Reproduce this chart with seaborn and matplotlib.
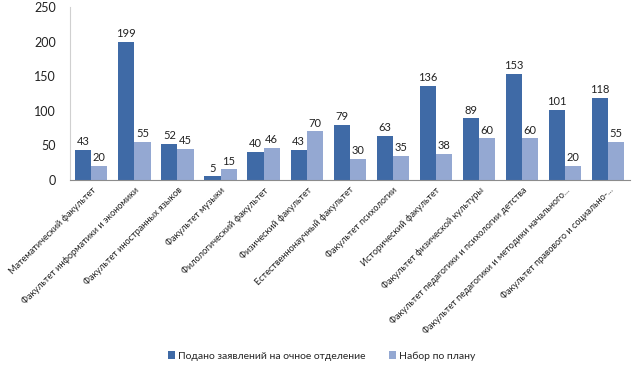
import pandas as pd
import matplotlib
matplotlib.use("Agg")
import matplotlib.pyplot as plt
import seaborn as sns

# Data
faculties = [
    "Математический факультет",
    "Факультет информатики и экономики",
    "Факультет иностранных языков",
    "Факультет музыки",
    "Филологический факультет",
    "Физический факультет",
    "Естественнонаучный факультет",
    "Факультет психологии",
    "Исторический факультет",
    "Факультет физической культуры",
    "Факультет педагогики и психологии детства",
    "Факультет педагогики и методики начального...",
    "Факультет правового и социально-...",
]
applications = [43, 199, 52, 5, 40, 43, 79, 63, 136, 89, 153, 101, 118]
plan = [20, 55, 45, 15, 46, 70, 30, 35, 38, 60, 60, 20, 55]
series_names = ["Подано заявлений на очное отделение", "Набор по плану"]
colors = ["#3F6AA6", "#94A8D2"]

df = pd.DataFrame({
    "faculty": faculties * 2,
    "value": applications + plan,
    "series": [series_names[0]] * len(faculties) + [series_names[1]] * len(faculties),
})

sns.set_style("white")
plt.rcParams["font.family"] = ["Lato", "DejaVu Sans"]

fig = plt.figure(figsize=(6.4, 3.67), dpi=100)
ax = fig.add_axes([0.109, 0.51, 0.875, 0.471])

sns.barplot(data=df, x="faculty", y="value", hue="series", palette=colors,
            width=0.75, saturation=1, ax=ax, edgecolor="none")

for cont in ax.containers:
    ax.bar_label(cont, fontsize=8, padding=2, color="#222222")

ax.set_ylim(0, 250)
ax.set_yticks(range(0, 251, 50))
ax.set_xlim(-0.5, len(faculties) - 0.5)
ax.set_xlabel("")
ax.set_ylabel("")
ax.tick_params(axis="y", labelsize=9, length=0, pad=10, colors="#222222")
ax.set_xticks(range(len(faculties)))
ax.set_xticklabels(faculties, rotation=45, ha="right", rotation_mode="anchor",
                   fontsize=6.6, color="#222222")
ax.tick_params(axis="x", length=0, pad=4)

for s in ["top", "right"]:
    ax.spines[s].set_visible(False)
ax.spines["left"].set_color("#D0D0D0")
ax.spines["bottom"].set_color("#8C8C8C")

ax.legend(loc="lower center", bbox_to_anchor=(0.45, -1.1), ncol=2, frameon=False,
          fontsize=7.5, handlelength=0.7, handleheight=0.7, columnspacing=2.2,
          handletextpad=0.3)

plt.savefig("out.png", dpi=100)
